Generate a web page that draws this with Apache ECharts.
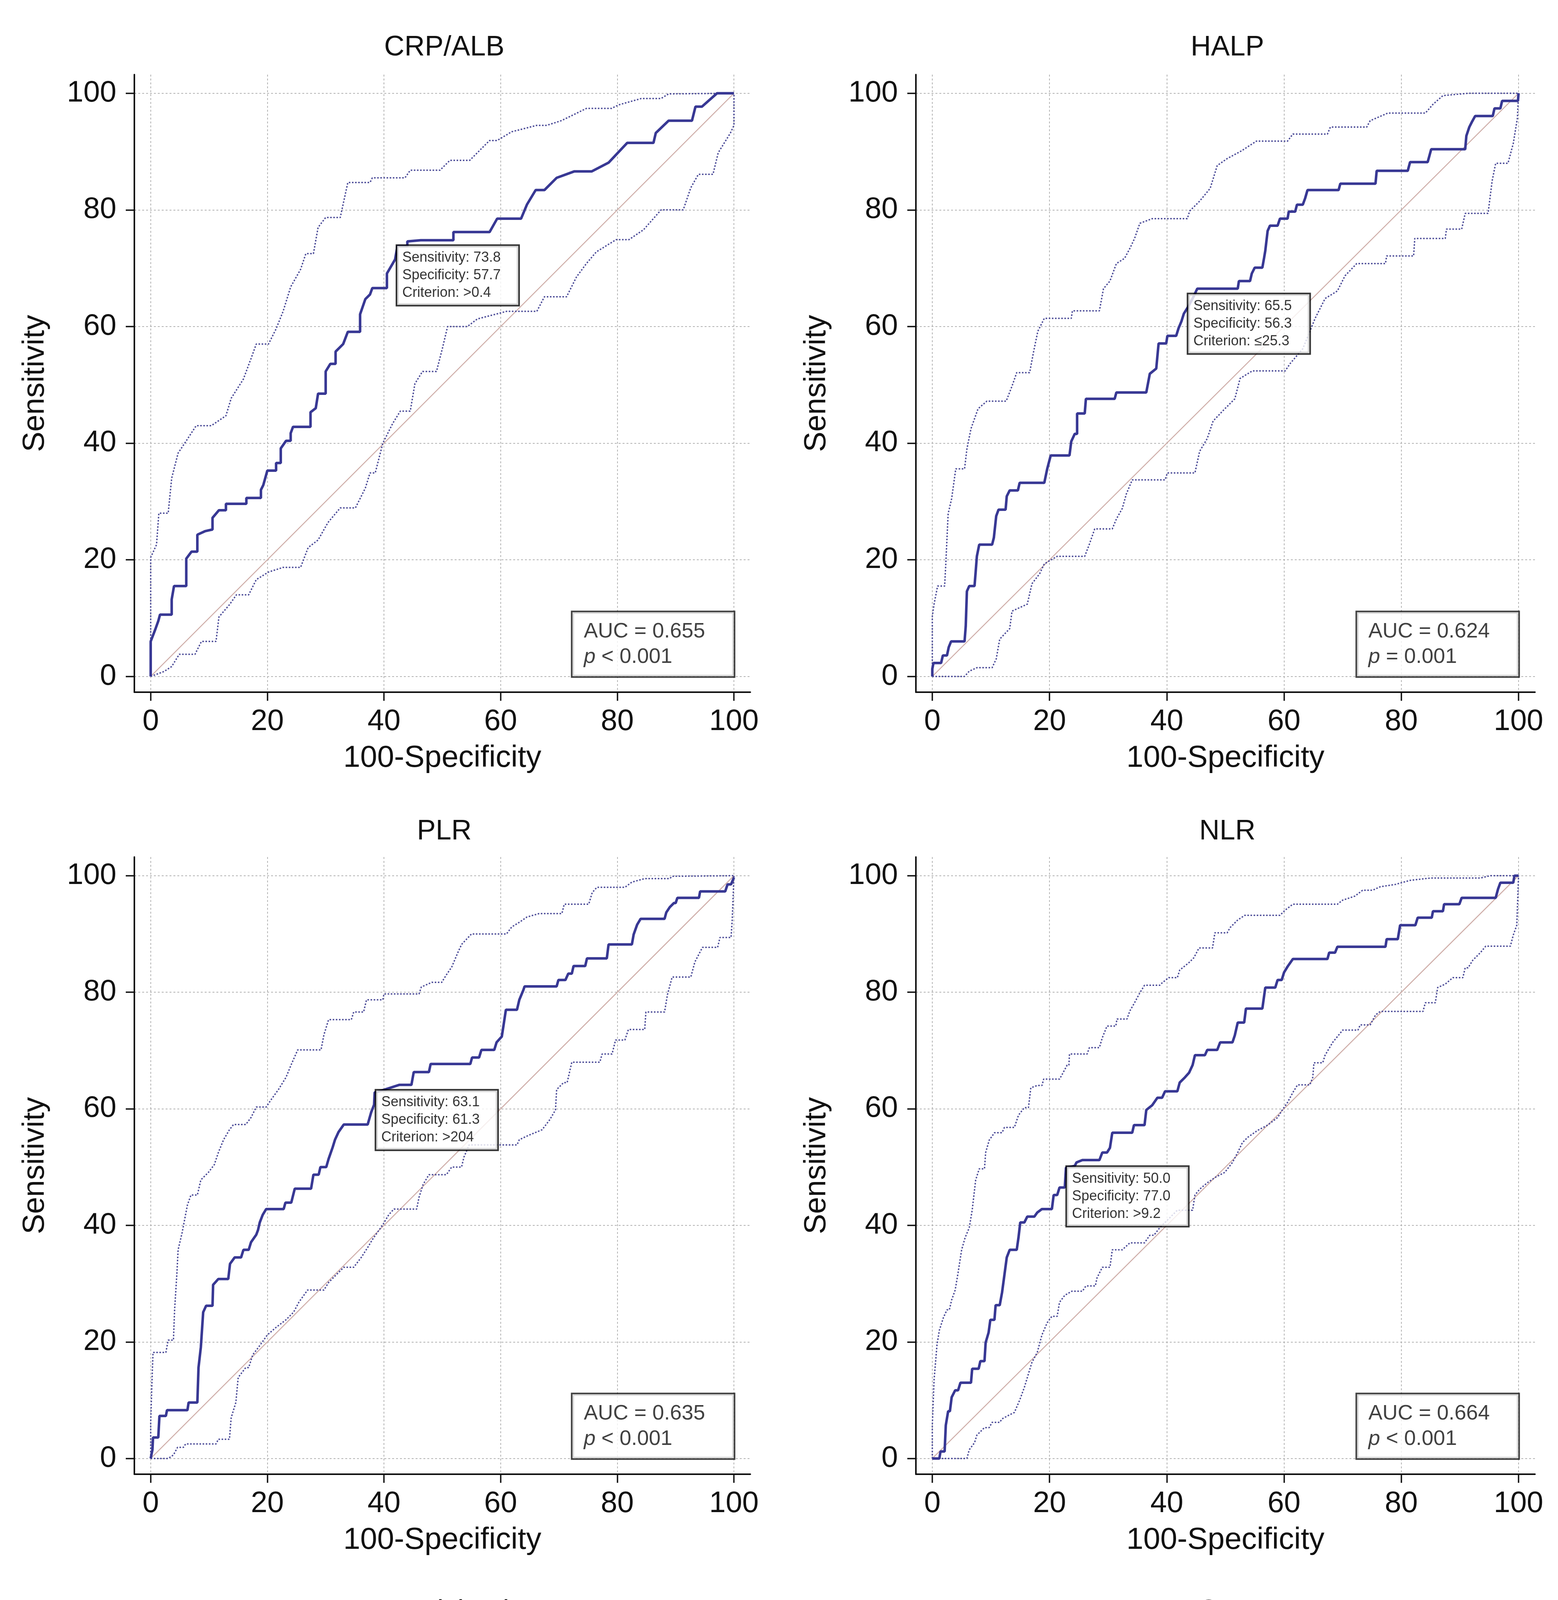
<!DOCTYPE html>
<html>
<head>
<meta charset="utf-8">
<title>ROC curves</title>
<style>html,body{margin:0;padding:0;background:#fff;}</style>
</head>
<body>
<div id="main" style="width:3989px;height:6064px;"></div>
<script src="https://cdn.jsdelivr.net/npm/echarts@6/dist/echarts.min.js"></script>
<script>
// panel titles and tick values
var titles = ['CRP/ALB', 'HALP', 'PLR', 'NLR', 'Procalcitonin', 'CRP'];
var ticks = [0, 20, 40, 60, 80, 100];
var diag = [[0, 0], [100, 100]];

// cut-off points and AUC boxes
var sens = [73.8, 65.5, 63.1, 50.0, 76.2, 71.4];
var spec = [57.7, 56.3, 61.3, 77.0, 53.2, 58.1];
var crit = ['>0.4', '\u226425.3', '>204', '>9.2', '>0.31', '>15.5'];
var auc = ['0.655', '0.624', '0.635', '0.664', '0.668', '0.646'];
var pval = ['< 0.001', '= 0.001', '< 0.001', '< 0.001', '< 0.001', '< 0.001'];

// CRP/ALB
var roc1 = [[0,0],[0,6],[0.8,8.1],[1.3,9.5],[1.6,10.6],[3.6,10.6],[3.6,13.2],[4,15.5],[6.1,15.5],[6.1,20.2],[7,21.4],[8,21.4],[8,24.3],[9.3,24.9],[10.6,25.2],[10.6,27.2],[11.7,28.5],[12.9,28.5],[12.9,29.6],[16.4,29.6],[16.4,30.6],[18.9,30.6],[18.9,32],[19.3,32.8],[20,35.3],[21.5,35.3],[21.5,36.6],[22.3,36.6],[22.3,39.1],[23.2,40.4],[24,40.4],[24,41.7],[24.4,42.8],[27.4,42.8],[27.4,45.3],[28.3,46],[28.7,48.5],[30,48.5],[30,52.3],[30.8,53.6],[31.7,53.6],[31.7,55.7],[33,57],[33.8,59.1],[35.9,59.1],[35.9,62.1],[36.8,64.7],[37.6,65.5],[38,66.6],[40.5,66.6],[40.5,69.1],[41.9,71.5],[42.3,73.8],[44,73.8],[44,74.6],[46.3,74.8],[51.9,74.8],[51.9,76.2],[58.1,76.2],[59.4,78.5],[63.5,78.5],[64.5,80.9],[66,83.4],[67.5,83.4],[69.6,85.5],[72.6,86.6],[75.6,86.6],[78.5,88.1],[81.7,91.5],[86.2,91.5],[86.6,93.2],[88.8,95.3],[92.8,95.3],[93.4,97.7],[94.5,97.7],[97.1,100],[100,100]];
var upper1 = [[0,0],[0,20.4],[1,22.6],[1.4,28],[3,28],[3.6,34],[4.7,38.3],[6.1,40.4],[7.8,43],[10.4,43],[12.9,44.7],[13.8,47.7],[15.9,51],[17.2,54.5],[18.1,57],[20.2,57],[21.5,59.6],[22.7,62.6],[24,66.8],[25.7,69.8],[26.6,72.5],[27.9,72.5],[28.7,77],[30,78.7],[32.5,78.7],[33.8,84.7],[37.6,84.7],[38,85.5],[43.6,85.5],[44.5,86.8],[49.6,86.8],[51.3,88.5],[54.7,88.5],[58.1,91.9],[59.4,91.9],[61.9,93.4],[66.2,94.5],[67.9,94.5],[70.4,95.3],[74.7,97.4],[79,97.4],[80.2,98],[84.1,99.1],[87.5,99.1],[88.8,99.9],[100,100]];
var lower1 = [[0,0],[2.3,0.85],[3.6,1.7],[4.9,3.8],[7.6,3.8],[8.7,6],[11.2,6],[11.7,10.2],[13.5,12.3],[14.7,14],[16.8,14],[18.1,16.6],[20.2,17.9],[22.7,18.7],[25.7,18.7],[27,22.1],[28.7,23.4],[30.4,26.4],[32.5,28.9],[35.1,28.9],[36.8,32.3],[37.6,34.9],[38.5,34.9],[39.8,40],[41.5,43.4],[42.8,45.5],[44.5,45.5],[45.3,50.2],[46.6,52.3],[49,52.3],[50,56.2],[50.9,60],[54.3,60],[56,61.3],[61,62.6],[66.2,62.6],[67.5,65.1],[71.3,65.1],[73,68.5],[74.7,70.8],[76.4,72.8],[79.8,74.9],[82,74.9],[84.5,76.6],[87.5,80],[91.3,80],[92.6,83.8],[93.9,86.1],[96.4,86.1],[97.3,89.8],[99.4,93.2],[100,94.5],[100,100]];

// HALP
var roc2 = [[0,0],[0,1.3],[0.2,2.3],[1.5,2.3],[1.8,3.6],[2.5,3.6],[2.8,5],[3.2,6],[5.5,6],[5.7,8.6],[5.9,14.6],[6.3,15.5],[7.2,15.5],[7.4,18],[7.6,20.6],[8,22.6],[10.2,22.6],[10.5,23.8],[10.9,27.5],[11.3,28.6],[12.5,28.6],[12.7,30.9],[13.2,31.9],[14.6,31.9],[14.9,33.2],[19.1,33.2],[19.6,35.6],[20.2,37.9],[23.4,37.9],[23.7,40.3],[24.3,41.6],[24.7,41.6],[24.7,45.1],[26,45.1],[26.2,47.6],[31.1,47.6],[31.4,48.7],[36.5,48.7],[37.1,51.9],[38.2,52.8],[38.6,57.1],[39.9,57.1],[40.1,58.4],[41.6,58.4],[42,59.7],[42.5,60.9],[42.9,62.2],[43.7,63.5],[44.5,65],[45.2,66.5],[52.1,66.5],[52.3,67.8],[54.2,67.8],[54.5,69.1],[55,70.1],[56.3,70.1],[56.6,71.8],[56.8,73],[57.2,76.4],[57.6,77.3],[58.9,77.3],[59.3,78.5],[60.6,78.5],[60.8,79.7],[61.9,79.7],[62.2,80.9],[63.2,80.9],[63.6,82],[64,83.4],[69.3,83.4],[69.6,84.5],[75.6,84.5],[75.8,86.7],[81.1,86.7],[81.5,88.2],[84.5,88.2],[84.8,89.3],[85.1,90.4],[90.9,90.4],[91.1,92.7],[91.6,94.2],[92,95],[92.6,96.1],[95.6,96.1],[95.9,97.4],[96.9,97.4],[97.2,98.7],[99.9,98.7],[100,100]];
var upper2 = [[0,0],[0,10.3],[0.3,12.4],[0.9,15.5],[2.1,15.5],[2.3,19.3],[2.7,27.9],[3.3,30.5],[4,35.6],[5.5,35.6],[5.9,39],[6.6,42.5],[7.8,45.9],[9.3,47.2],[12.6,47.2],[13.6,49.8],[14.4,52.1],[16.6,52.1],[17.3,55.8],[18,59.2],[19.1,61.4],[23.7,61.4],[23.9,62.7],[28.5,62.7],[29.2,66.5],[30.3,67.8],[31.4,70.8],[32.8,71.7],[33.7,73.4],[34.5,75.1],[35.4,77.7],[37.5,78.5],[43.5,78.5],[43.9,79.8],[45.6,81.5],[47.4,83.7],[48.6,87.6],[50.3,88.8],[52.7,90.1],[55.3,91.8],[60.6,91.8],[61.5,93],[67.4,93],[67.9,94.2],[74.1,94.2],[74.7,95.3],[77.7,96.6],[84.1,96.6],[85.4,98.1],[87.1,99.6],[91.4,100],[100,100]];
var lower2 = [[0,0],[5.5,0],[6.3,0.9],[7.6,1.5],[10.2,1.5],[10.9,3],[11.5,6.4],[13.2,8.2],[13.6,11.2],[16.2,12.4],[17,15.9],[18.3,17.6],[19.1,19.3],[21.3,20.6],[26,20.6],[26.8,22.7],[27.7,25.3],[30.7,25.3],[31.4,27],[32.4,28.8],[33.1,31.3],[34.1,33.7],[39.7,33.7],[40.1,34.9],[44.8,34.9],[45.6,38.6],[46.9,40.8],[47.9,43.8],[49.9,45.9],[51.6,47.6],[52.5,51.1],[54.6,52.4],[60.2,52.4],[61,53.6],[63.2,56.2],[65.3,61.4],[67,64.8],[69.1,66.1],[70.4,68.7],[72.4,70.8],[77.3,70.8],[77.5,72.1],[82.1,72.1],[82.3,75.1],[87.5,75.1],[87.7,76.7],[90.3,76.7],[90.9,79.4],[94.8,79.4],[95.5,85],[96.1,88],[98.2,88],[99.1,91.4],[99.8,95.7],[100,100]];

// PLR
var roc3 = [[0,0],[0.3,1.5],[0.4,3.6],[1.3,3.6],[1.5,7.3],[2.6,7.3],[2.8,8.3],[6.3,8.3],[6.5,9.6],[8,9.6],[8.2,15.6],[8.6,19.1],[9,25.1],[9.5,26.2],[10.6,26.2],[10.7,29.8],[11.6,30.8],[13.3,30.8],[13.6,33.4],[14.4,34.5],[15.5,34.5],[15.9,35.8],[16.8,35.8],[17.2,37.1],[18.1,38.4],[18.4,39.2],[18.7,40.5],[19.2,41.8],[19.8,42.8],[22.8,42.8],[23.1,43.9],[24.1,43.9],[24.7,46.3],[27.5,46.3],[27.9,48.7],[28.8,48.7],[29.1,50],[30.1,50],[30.5,51.4],[31.2,53.4],[31.6,54.7],[32.2,56],[33.1,57.3],[37.2,57.3],[37.8,59.4],[38.3,60.7],[38.4,62.8],[39.5,63.1],[42.6,64.1],[44.7,64.1],[45.1,66.3],[47.7,66.3],[48,67.7],[54.8,67.7],[55.1,68.8],[56.3,68.8],[56.7,70.1],[58.9,70.1],[59.3,71.4],[60.2,72.4],[60.9,77],[62.8,77],[63.2,78.7],[63.9,80.4],[64.1,81],[69.6,81],[69.9,82.1],[71.1,82.1],[71.6,83.2],[72.2,83.2],[72.5,84.5],[74.5,84.5],[74.8,85.8],[78.2,85.8],[78.5,88.2],[82.5,88.2],[82.8,89.9],[83.4,91.6],[84,92.6],[88.1,92.6],[88.4,93.7],[89,94.6],[89.7,95.3],[90,95.3],[90.3,96.2],[94,96.2],[94.2,97.3],[98.5,97.3],[98.9,98.5],[99.5,98.5],[100,99.7]];
var upper3 = [[0,0],[0,6.2],[0.2,12.6],[0.4,18.2],[2.6,18.2],[3,20.3],[3.9,20.3],[4.1,25.5],[4.5,31.9],[4.7,35.8],[5.4,38.8],[5.8,40.9],[6.3,43.5],[6.9,45.2],[8,45.2],[8.6,47.8],[9.9,49.1],[10.9,50.4],[11.6,52.5],[12.5,54.7],[13.5,56.4],[14.2,57.3],[16.3,57.3],[17.2,58.5],[18.1,60.3],[19.8,60.3],[20.6,61.5],[21.9,63.3],[23.2,65.4],[24.1,67.6],[25.2,70.1],[29.2,70.1],[29.7,72.7],[30.5,75.3],[34.4,75.3],[34.8,76.6],[36.5,76.6],[37,78.7],[39.8,78.7],[40,79.7],[46,79.7],[46.4,80.9],[48.2,81.7],[49.9,81.7],[50.7,83],[51.6,84.3],[52.7,86.9],[53.3,88.2],[55,90],[61,90],[61.9,91.2],[63.2,92],[64.5,92.9],[66.6,93.5],[70.5,93.5],[70.9,95.1],[75.1,95.1],[75.7,97.1],[76.5,98],[81.3,98],[82.5,98.9],[84.7,99.5],[89,99.5],[89.4,99.9],[100,100]];
var lower3 = [[0,0],[3,0],[3.9,0.6],[4.6,1.9],[5.6,1.9],[6,2.5],[11.2,2.5],[11.6,3.3],[13.5,3.3],[13.8,7],[14.6,9.6],[15,13.9],[16.3,15.6],[16.8,15.6],[17.5,17.8],[18.5,19.1],[20,21.2],[21.5,22.5],[23.2,23.8],[24.5,25.1],[25.4,26.8],[26.9,28.9],[29.7,28.9],[30.5,30.2],[31.8,31.5],[33.1,32.8],[34.8,32.8],[36.1,34.5],[37.2,36.2],[38.1,37.7],[39.8,40.1],[40.8,41.8],[41.7,42.8],[45.6,42.8],[46,44.8],[46.7,47],[47.7,48.7],[50.7,48.7],[51.6,50],[53.3,50],[53.7,51.7],[54.6,53.8],[62.8,53.8],[63.2,54.7],[64.9,55.5],[67.1,56.4],[68.4,58.1],[69.4,59.8],[69.6,63.3],[70.8,64.5],[71.4,64.5],[72.2,68],[77,68],[77.4,69.4],[79.1,69.4],[79.7,71.8],[81.3,71.8],[81.9,73.6],[84.7,73.6],[84.9,76.6],[88.1,76.6],[88.6,79.6],[89.4,82.6],[92.6,82.6],[93.3,85.2],[94.6,87.7],[97.2,87.7],[97.6,89.4],[99.5,89.4],[99.7,92.4],[100,100]];

// NLR
var roc4 = [[0,0],[1.2,0],[1.4,1.2],[2.1,1.2],[2.3,5.7],[2.7,8.1],[3,8.1],[3.3,10.5],[3.9,11.7],[4.4,11.7],[4.8,13],[6.6,13],[6.8,15.4],[7.9,15.4],[8.2,16.7],[8.9,16.7],[9.1,19.9],[9.6,21.6],[9.9,23.8],[10.6,23.8],[10.8,26.3],[11.5,26.3],[11.9,28.5],[12.3,31.5],[12.7,34.5],[13.2,35.8],[14.4,35.8],[14.7,37.9],[15,40.5],[15.7,40.5],[16.2,41.5],[17.4,41.5],[17.9,42.2],[18.7,42.8],[20.4,42.8],[20.7,45.2],[21.3,45.2],[21.7,46.5],[22.6,46.5],[22.8,49.9],[24.3,50.2],[24.6,50.8],[25.6,51.2],[28.5,51.2],[29,52.5],[29.8,52.5],[30.3,53.3],[30.7,55.9],[34.1,55.9],[34.4,57.2],[36.2,57.2],[36.5,59.8],[37.5,60.6],[38.4,61.9],[39.2,61.9],[39.7,63],[41.8,63],[42.2,64.5],[43.1,65.4],[43.8,66.2],[44.4,67.5],[44.8,69.2],[46.5,69.2],[46.9,70.1],[48.6,70.1],[49.1,71.4],[51.2,71.4],[51.6,72.6],[52.1,74.8],[53.2,74.8],[53.5,77.2],[56.3,77.2],[56.8,80.8],[58.5,80.8],[58.9,82.1],[59.6,82.1],[60,83.4],[60.6,84.4],[61.5,85.7],[67.4,85.7],[67.7,86.8],[68.7,86.8],[69.1,87.8],[77.3,87.8],[77.5,89.1],[79.4,89.1],[79.8,91.5],[82.4,91.5],[82.8,92.8],[85.2,92.8],[85.4,93.9],[87.1,93.9],[87.3,95.1],[89.9,95.1],[90.3,96.2],[96.1,96.2],[96.5,97.7],[96.9,98.8],[99.1,98.8],[99.3,100],[100,100]];
var upper4 = [[0,0],[0,5.7],[0.3,13.5],[0.8,19.5],[1.2,22],[1.9,24.2],[2.5,25.5],[2.9,25.5],[3.3,27.2],[3.9,28.9],[4.4,31.9],[5,35.8],[5.6,37.9],[6.3,39.6],[6.8,42.6],[7.4,47.8],[8,49.7],[8.9,49.7],[9.1,52.5],[9.7,54.6],[10.6,55.9],[11.9,55.9],[12.3,56.8],[14,56.8],[14.7,58.9],[15.7,60.2],[16.4,60.2],[16.8,63.6],[17.9,64],[18.7,64],[19,65.1],[21.7,65.1],[22.1,65.8],[23,67.5],[23.3,67.5],[23.4,69.4],[26.4,69.4],[26.8,70.5],[28.5,70.5],[29,72.2],[29.8,74.2],[31.3,74.2],[31.5,75.4],[33.2,75.4],[33.7,76.8],[34.5,78.2],[35.4,79.9],[36.2,81.2],[38.8,81.2],[39.2,81.6],[40.3,82.5],[41.8,82.5],[42.2,83.8],[43.8,85.1],[44.6,85.9],[45.5,87.6],[47.8,87.6],[48.2,90.2],[50.3,90.2],[50.8,91.1],[52.1,92.4],[53.3,93.2],[59.3,93.2],[60.2,94.1],[61.5,95.1],[69.1,95.1],[70,95.8],[72.1,96.5],[73.4,97.5],[75.1,97.5],[76.4,98.1],[79,98.5],[81.5,99.2],[85,99.6],[93.5,99.6],[95.2,100],[100,100]];
var lower4 = [[0,0],[5.9,0],[6.3,1.5],[7.2,2.7],[7.6,4],[8.9,5.3],[9.7,5.3],[10.2,6.2],[11.5,6.2],[11.9,6.8],[13.2,7.5],[14,7.9],[14.9,10],[15.7,12.2],[16.6,15.2],[17,16.5],[17.9,18.2],[18.7,21.2],[19.6,23.3],[20.4,24.4],[21.3,24.4],[21.7,26.8],[22.6,28],[23.8,28.7],[25.6,28.7],[26.2,29.6],[27.8,29.6],[28.1,31],[29,32.8],[30.3,32.8],[30.7,35.8],[32.4,35.8],[33.7,37],[36.2,37],[37.1,38.3],[37.8,38.3],[38.8,39.6],[40.5,41.3],[41.8,42.6],[44.4,42.6],[44.8,45.2],[45.6,46.2],[46.9,47.3],[48.2,48.2],[49.9,49.1],[51.2,50.8],[52.1,52.5],[52.9,54.2],[53.8,55.1],[55.5,56.3],[57.2,57.2],[58.9,58.5],[59.7,59.8],[60.6,61.1],[61.5,62.8],[62.3,64.1],[64.4,64.1],[64.9,65.4],[65.1,67.9],[66.6,67.9],[67,69.2],[68.3,71.4],[70,73.5],[72.6,73.5],[73,74.4],[74.7,74.4],[75.6,76.1],[76.4,76.7],[83.7,76.7],[84.1,78.2],[85.8,78.2],[86.2,80.8],[87.5,81.4],[88.8,82.5],[90.5,82.5],[90.9,84.2],[91.4,84.2],[92.2,85.5],[93.5,86.8],[94.4,87.9],[98.6,87.9],[99.1,89.8],[99.7,91.5],[100,100]];

// Procalcitonin
var roc5 = [[0.5,0],[0.9,2.3],[1.3,2.3],[1.3,7.2],[3.4,7.2],[3.7,8.3],[4,13],[4.6,13],[4.9,14.3],[9,14.3],[9.2,19],[12,19],[12.3,20.1],[13.7,20.1],[14,23.9],[14.4,25],[16.1,25],[16.3,27.4],[19.7,27.4],[20.2,28.6],[20.3,30.8],[20.9,32.1],[21.3,33.4],[21.9,33.4],[22.1,34.6],[22.5,39.4],[22.7,41.5],[24,41.5],[24.5,43],[25.2,43],[25.8,44.9],[26.4,46.2],[27.7,46.2],[27.9,47.5],[29.2,47.5],[29.6,48.8],[29.9,51.4],[30.5,52.7],[31.2,53.9],[31.6,55],[31.9,56.1],[32.4,56.9],[32.9,56.9],[33.2,58.1],[36.9,58.1],[37.1,60.8],[38.4,60.8],[38.6,62.1],[39.1,63],[39.5,65.1],[39.9,66],[40.3,66.8],[42.1,66.8],[42.5,67.8],[44.2,67.8],[44.6,69],[45.5,71.1],[45.9,72.1],[46.4,74.5],[46.8,76.2],[48.1,76.2],[48.5,77.5],[49.4,79.2],[50.6,80.4],[51.5,81],[55.4,81],[55.8,82.2],[57.5,82.2],[58.4,82.9],[58.6,84.4],[60.9,84.4],[61.1,85.5],[64.4,85.5],[64.8,86.1],[66.1,86.9],[67.6,86.9],[68.9,89.1],[70.8,90.4],[72.5,91.9],[74.2,93.2],[76.8,95.1],[79.8,97.5],[82,99],[85.4,100],[100,100]];
var upper5 = [[0,0],[0,5.9],[0.3,17.1],[1.1,17.1],[1.3,23.9],[1.7,24.8],[2.1,26.5],[4.5,26.5],[4.7,31.6],[7.1,31.6],[7.5,33.4],[8.6,33.4],[8.8,37.7],[9.9,38.5],[10.6,41.1],[13.3,41.1],[13.7,43.7],[14.2,46.2],[15,48.4],[15.7,51.8],[16.1,53.9],[16.7,55.7],[17.6,56.9],[18.5,58.2],[19.3,59.8],[20.6,60.8],[21.5,61.7],[22.3,63.8],[22.7,66],[23.6,68.1],[24.5,70.2],[25.3,71.3],[28.8,71.3],[29.2,73.2],[30,74.5],[30.9,76.2],[31.5,78.4],[32.6,79],[34.3,79],[34.7,79.8],[37.3,82.7],[37.8,84.8],[39.1,86.5],[40.3,87],[40.8,88.3],[42.1,89.5],[43.3,90.1],[46.8,90.1],[48.1,91],[49.8,91.8],[50.6,92.7],[52.4,92.7],[54.1,93.6],[56.2,93.6],[57.5,94.3],[59.7,94.3],[60.9,96],[63.9,97.3],[67.4,98.5],[70.4,99.4],[72.1,99.8],[100,100]];
var lower5 = [[0,0],[4.5,0],[4.7,1.8],[7.7,1.8],[8.2,2.9],[8.8,5.5],[9.9,6.1],[14.6,6.1],[14.8,7.2],[15,9.5],[18,9.5],[18.3,10.2],[20.2,10.2],[20.6,11.9],[21,14.1],[22.7,14.1],[23.2,15.8],[26.9,15.8],[27,17.1],[27.7,19.2],[28.3,20.9],[29.6,22.4],[30,25.6],[30.6,28.2],[31.5,28.6],[32.4,29.8],[33.2,31.2],[33.9,32.5],[35.2,33.5],[36.5,34.6],[37.2,35.9],[37.8,37.2],[38.6,40.2],[39.9,42.4],[41.2,43.8],[42.3,44.1],[45.1,44.1],[45.5,46.2],[46.8,48.4],[47.6,50.9],[48.5,52.4],[50.4,52.4],[51.5,53.1],[52.8,53.9],[53.6,56.1],[54.5,58.7],[55.4,61.2],[56.1,62.7],[57.1,63.8],[58.4,66],[60,67],[64,68.5],[68.2,69.8],[69.8,71.5],[72.5,73.5],[73.8,73.5],[74.7,75.2],[75.5,76.7],[76.8,78.4],[78.1,80.1],[79.8,82.2],[81.5,84.1],[83.7,86.5],[85.8,88.7],[88,91],[90.1,93.2],[91,94.1],[100,94.1],[100,100]];

// CRP
var roc6 = [[0,0],[0,3.5],[1.1,3.5],[1.3,8.3],[3,8.3],[3.2,9.5],[3.7,9.5],[3.8,11.1],[4,13.2],[4.5,14.5],[4.7,16.9],[6.4,16.9],[6.7,18],[7.3,18.8],[8.1,20.1],[9.4,20.1],[9.7,21.4],[11.8,21.4],[12,25],[13.7,25],[14,26.1],[15.4,26.1],[15.8,27.4],[17.7,27.4],[18,30],[18.4,33.4],[22.7,33.4],[23.1,36],[23.5,36.9],[24,38.1],[24.6,38.1],[24.8,39.3],[25.3,40.3],[26.3,40.3],[26.5,44.2],[28.3,44.2],[28.5,47.6],[29.5,47.6],[29.7,57],[33.4,57],[33.8,58.3],[34.2,59.6],[34.8,60.9],[35.5,61.8],[36.2,63.1],[36.8,63.9],[37.4,65.2],[37.9,66.5],[38.5,67.8],[40.5,67.8],[40.8,69.5],[41.5,70.4],[42,71.4],[46.5,71.4],[47.1,72.1],[48.8,72.8],[49.3,73.4],[50,73.4],[50.8,75.1],[53.3,75.1],[53.7,76.1],[60.5,76.1],[60.8,78.5],[62.1,79.8],[66.8,79.8],[67,80.7],[68.1,82],[68.5,83.2],[69.9,83.2],[70.2,85.7],[71.3,85.7],[71.5,86.9],[76.2,86.9],[76.5,88.2],[77.7,88.2],[77.9,89.3],[79,89.3],[79.4,91.6],[83.9,91.6],[84.2,92.7],[86.2,92.7],[86.7,94],[87.6,95.1],[92.5,95.1],[92.9,96.2],[94.8,96.2],[95.3,98.7],[95.8,98.7],[96.1,100],[100,100]];
var upper6 = [[0,0],[0,6.4],[0.3,18.8],[0.9,21.4],[1.3,24.8],[1.7,27.8],[2.4,29.1],[2.8,30.4],[3.9,32.1],[4.7,33.6],[5.6,34.7],[6.8,34.7],[7.3,38.6],[8.6,39.9],[9.8,40.7],[11.6,40.7],[12,47.3],[15.8,47.3],[16.4,50.6],[17.1,52.3],[18,54],[18.8,55.3],[19.7,57.5],[20.5,58.3],[21,61.3],[21.8,61.3],[22.1,70.4],[25.3,70.4],[26.1,72.1],[27.4,73.4],[28.7,75.1],[29.5,76.8],[30.4,78.1],[30.8,79.4],[32.5,79.4],[33,81.5],[33.6,82.8],[40.2,82.8],[41.1,84.1],[42.2,85],[43.7,85.7],[44.5,85.7],[45.4,86.7],[52.5,86.7],[52.8,88.6],[53.9,89.3],[58.5,89.3],[59.1,90.6],[60.4,91.8],[61.5,91.8],[62.5,93.4],[63.8,94.2],[68.5,94.2],[68.9,94.8],[70.2,96.1],[71.5,97.4],[77.1,97.4],[77.9,98],[80.1,98],[81.3,99.1],[86,99.1],[87.3,99.6],[90.3,100],[100,100]];
var lower6 = [[0,0],[4.3,0],[4.5,0.3],[4.7,2.5],[6.8,2.5],[7.4,3.4],[8.1,4.4],[8.8,5.9],[9.7,7.6],[10.7,7.6],[11.6,8.5],[12.4,9.4],[13.4,10.2],[14.6,10.9],[17.1,10.9],[18.2,12.8],[18.5,12.8],[18.8,14.5],[20.1,14.5],[21,15.4],[21.8,15.4],[23.1,16.2],[25.1,16.2],[25.4,19.2],[25.9,20.7],[30.4,20.7],[30.8,22.7],[31.4,24.8],[32.1,26.1],[33,27.8],[33.9,27.8],[34.2,29.6],[34.8,30.8],[35.6,30.8],[36.2,33.8],[36.8,33.8],[37.2,35.1],[37.7,38.6],[37.9,43],[42,43],[42.4,45.4],[43.1,47.2],[43.9,48.5],[44.8,50.2],[45.8,51.9],[47.1,53.6],[49.2,53.6],[49.7,56.2],[50.5,57.5],[56.5,57.5],[57.4,58.8],[58.2,59.6],[59.1,60.9],[59.9,62.2],[63.1,62.8],[68.5,62.8],[68.9,64.8],[70.2,65.6],[71.1,66.8],[74.5,66.8],[74.9,68],[75.8,69.5],[76.6,70.5],[77.3,72.1],[77.9,73.4],[78.8,74.8],[83,74.8],[83.5,76.4],[84.3,78.1],[85.2,79.4],[86,79.4],[86.5,81.1],[89.5,81.1],[89.9,82.6],[92,84.1],[92.5,84.1],[92.9,85.8],[95.5,85.8],[96.5,87.5],[97.2,90.1],[98,90.1],[98.5,92.3],[99.3,94],[99.7,94],[100,100]];

var rocs = [roc1, roc2, roc3, roc4, roc5, roc6];
var uppers = [upper1, upper2, upper3, upper4, upper5, upper6];
var lowers = [lower1, lower2, lower3, lower4, lower5, lower6];

var font = '"Liberation Sans", Arial, sans-serif';
var ink = '#111111';

// panel placement in pixels
var gridBoxes = [
    {left: 344, top: 191, width: 1577, height: 1581},
    {left: 2345, top: 191, width: 1585, height: 1581},
    {left: 344, top: 2194, width: 1577, height: 1580},
    {left: 2345, top: 2194, width: 1585, height: 1580},
    {left: 344, top: 4195, width: 1577, height: 1583},
    {left: 2345, top: 4195, width: 1585, height: 1583}
];
var titleTops = [81, 81, 2088, 2088, 4085, 4085];
var xNameGaps = [130, 130, 130, 130, 165, 165];
var aucBoxWidth = 355 + 2 * 29;

var myChart = echarts.init(document.getElementById('main'), null, {renderer: 'canvas'});

var grid = [], xAxis = [], yAxis = [], title = [], series = [];

for (var i = 0; i < 6; i++) {
    var b = gridBoxes[i];
    grid.push({left: b.left, top: b.top, width: b.width, height: b.height, containLabel: false});
    title.push({
        text: titles[i],
        left: b.left + b.width / 2,
        top: titleTops[i],
        textAlign: 'center',
        textStyle: {fontSize: 72, fontWeight: 'normal', color: ink, fontFamily: font}
    });
    var common = {
        gridIndex: i,
        type: 'value',
        nameLocation: 'middle',
        nameTextStyle: {fontSize: 78, color: ink, fontFamily: font},
        axisLine: {show: true, onZero: false, lineStyle: {color: ink, width: 4}},
        axisTick: {show: true, inside: false, length: 22, customValues: ticks, lineStyle: {color: ink, width: 3.5}},
        axisLabel: {customValues: ticks, fontSize: 76, color: ink, fontFamily: font},
        splitLine: {show: true, lineStyle: {color: '#b3b3b3', width: 2, type: [5, 5]}}
    };
    xAxis.push(echarts.util.merge({
        min: -2.8, max: 102.8,
        name: '100-Specificity',
        nameGap: xNameGaps[i],
        axisLabel: {margin: 38}
    }, common, false));
    yAxis.push(echarts.util.merge({
        min: -2.7, max: 103.2,
        name: 'Sensitivity',
        nameGap: 215,
        axisLabel: {margin: 46}
    }, common, false));

    series.push({
        type: 'line', xAxisIndex: i, yAxisIndex: i, data: diag,
        symbol: 'none', silent: true, z: 2,
        lineStyle: {color: '#cfaea9', width: 2.5}
    });
    series.push({
        type: 'line', xAxisIndex: i, yAxisIndex: i, data: uppers[i],
        symbol: 'none', silent: true, z: 3,
        lineStyle: {color: '#4c4c98', width: 3.5, type: [4, 4]}
    });
    series.push({
        type: 'line', xAxisIndex: i, yAxisIndex: i, data: lowers[i],
        symbol: 'none', silent: true, z: 3,
        lineStyle: {color: '#4c4c98', width: 3.5, type: [4, 4]}
    });
    series.push({
        type: 'line', xAxisIndex: i, yAxisIndex: i, data: rocs[i],
        symbol: 'none', silent: true, z: 4,
        lineStyle: {color: '#383894', width: 6.5}
    });
    // cut-off box, top-left corner at the cut-off point
    series.push({
        type: 'scatter', xAxisIndex: i, yAxisIndex: i,
        data: [[100 - spec[i], sens[i]]],
        symbolSize: 1, silent: true, z: 10,
        itemStyle: {color: 'rgba(0,0,0,0)'},
        label: {
            show: true, position: [0, 0], align: 'left', verticalAlign: 'top',
            formatter: 'Sensitivity: ' + sens[i].toFixed(1) + '\nSpecificity: ' + spec[i].toFixed(1) + '\nCriterion: ' + crit[i],
            fontSize: 36, lineHeight: 45, fontFamily: font, color: '#000',
            backgroundColor: '#fff', borderColor: '#000', borderWidth: 4,
            padding: [8, 13], width: 284
        }
    });
    // AUC box, bottom-right corner at (100, 0)
    series.push({
        type: 'scatter', xAxisIndex: i, yAxisIndex: i,
        data: [[100, 0]],
        symbolSize: 1, silent: true, z: 10,
        itemStyle: {color: 'rgba(0,0,0,0)'},
        label: {
            show: true, position: [0, 0], align: 'left', verticalAlign: 'bottom',
            offset: [-aucBoxWidth, 0],
            formatter: 'AUC = ' + auc[i] + '\n{i|p} ' + pval[i],
            fontSize: 54, lineHeight: 65, fontFamily: font, color: ink,
            backgroundColor: '#fff', borderColor: ink, borderWidth: 4,
            padding: [17, 29], width: 355,
            rich: {i: {fontStyle: 'italic', fontSize: 54, lineHeight: 65, fontFamily: font, color: ink}}
        }
    });
}

var option = {
    backgroundColor: '#ffffff',
    animation: false,
    title: title,
    grid: grid,
    xAxis: xAxis,
    yAxis: yAxis,
    series: series
};
myChart.setOption(option);
</script>
</body>
</html>
